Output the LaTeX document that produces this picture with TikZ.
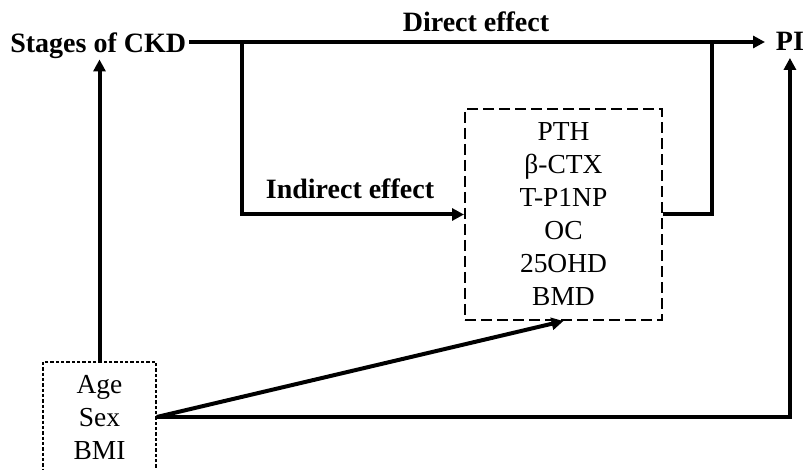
\documentclass[tikz,border=0pt]{standalone}
\usepackage{fontspec}
\setmainfont{Liberation Serif}
\usetikzlibrary{arrows.meta}

\begin{document}
\begin{tikzpicture}[x=0.75pt,y=-0.75pt,
    every node/.style={font=\fontsize{20.6}{24.75}\selectfont},
    effect/.style={font=\fontsize{21}{24.75}\selectfont\bfseries, inner sep=0pt},
    link/.style={line width=3pt, -{Triangle[length=9pt,width=9pt]}},
    markers/.style={draw, line width=1.5pt, dash pattern=on 8pt off 4pt,
        minimum width=147.75pt, minimum height=158.25pt, align=center, inner sep=0pt},
    covars/.style={draw, line width=1.1pt, dash pattern=on 2.5pt off 1.5pt,
        minimum width=84.75pt, minimum height=82.5pt, align=center, inner sep=0pt}]
   \useasboundingbox (0,0) rectangle (804,470);

   \node[effect, anchor=base east, inner xsep=2pt] (CKD) at (189,53) {Stages of CKD};
   \node[effect, anchor=base west, inner xsep=8pt] (PI) at (765,51) {PI};
   \node[markers] (M) at (563.5,214.5) {PTH\\β-CTX\\T-P1NP\\OC\\25OHD\\BMD};
   \node[covars] (C) at (99.5,417) {Age\\Sex\\BMI};
   \node[effect, anchor=base] (D) at (476,32) {Direct effect};
   \node[effect, anchor=base] (I) at (350,199) {Indirect effect};

   \coordinate (J1) at (242,42);
   \coordinate (J2) at (712,42);

   \draw[link] (CKD.east |- J1) -- (PI.west |- J1);
   \draw[link] (J1) |- (M.west);
   \draw[line width=3pt] (M.east) -| (J2);
   \draw[link] (C.north) -- (C.north |- CKD.south);
   \draw[link] (C.east) -- (M.south);
   \draw[link, shorten >=5pt] (C.east) -| (PI.south);
 \end{tikzpicture}
\end{document}
